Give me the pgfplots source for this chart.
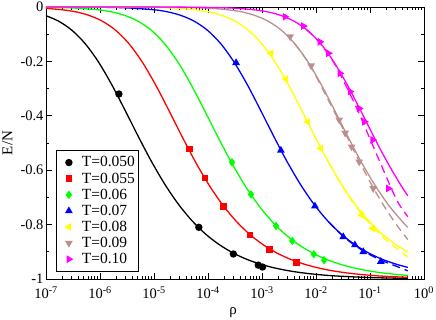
\documentclass[border=0pt]{standalone}
\usepackage{fontspec}
\setmainfont{Liberation Serif}
\usepackage{pgfplots}
\pgfplotsset{compat=1.18}
\definecolor{cbrown}{RGB}{188,143,143}
\definecolor{cyellow}{RGB}{255,255,0}
\definecolor{cgreen}{RGB}{0,255,0}
\definecolor{cmag}{RGB}{255,0,255}
\pgfplotsset{mylegend/.style={legend image code/.code={\path (0cm,0cm) (0.72cm,0cm); \draw[##1] plot coordinates {(0.36cm,0cm)};}}}
\begin{document}
\begin{tikzpicture}
\begin{axis}[
  scale only axis, width=378pt, height=272pt,
  xmin=-7, xmax=0, ymin=-1, ymax=0,
  xtick={-7,-6,-5,-4,-3,-2,-1,0},
  xticklabels={10\textsuperscript{-7},10\textsuperscript{-6},10\textsuperscript{-5},10\textsuperscript{-4},10\textsuperscript{-3},10\textsuperscript{-2},10\textsuperscript{-1},10\textsuperscript{0}},
  minor xtick={-6.699,-6.523,-6.398,-6.301,-6.222,-6.155,-6.097,-6.046,
               -5.699,-5.523,-5.398,-5.301,-5.222,-5.155,-5.097,-5.046,
               -4.699,-4.523,-4.398,-4.301,-4.222,-4.155,-4.097,-4.046,
               -3.699,-3.523,-3.398,-3.301,-3.222,-3.155,-3.097,-3.046,
               -2.699,-2.523,-2.398,-2.301,-2.222,-2.155,-2.097,-2.046,
               -1.699,-1.523,-1.398,-1.301,-1.222,-1.155,-1.097,-1.046,
               -0.699,-0.523,-0.398,-0.301,-0.222,-0.155,-0.097,-0.046},
  ytick={-1,-0.8,-0.6,-0.4,-0.2,0},
  yticklabels={-1,-0.8,-0.6,-0.4,-0.2,0},
  minor ytick={-0.9,-0.7,-0.5,-0.3,-0.1},
  tick align=inside,
  major tick length=6pt, minor tick length=3pt,
  tick style={black, line width=0.6pt},
  axis line style={line width=0.8pt},
  ticklabel style={font=\fontsize{14.5}{14.5}\selectfont},
  xticklabel style={yshift=-4pt},
  yticklabel style={xshift=1pt},
  ylabel={E/N}, xlabel={ρ},
  label style={font=\fontsize{15}{15}\selectfont},
  ylabel style={at={(axis description cs:-0.102,0.5)}, anchor=center, rotate=0},
  xlabel style={at={(axis description cs:0.495,-0.122)}, anchor=center},
  legend style={at={(axis description cs:0.027,0.026)}, anchor=south west,
    font=\fontsize{15.5}{15.5}\selectfont, draw=black, line width=0.6pt,
    inner xsep=1.5pt, inner ysep=4.5pt, row sep=0.3pt, legend cell align=left},
  every axis plot/.append style={line width=1.3pt},
  clip=true,
]
% ---- solid theory curves
\addplot[black, smooth, forget plot] coordinates {(-7.03,-0.0298) (-6.78,-0.0507) (-6.53,-0.0839) (-6.28,-0.1335) (-6.03,-0.2016) (-5.78,-0.2864) (-5.53,-0.3820) (-5.28,-0.4803) (-5.03,-0.5740) (-4.78,-0.6579) (-4.53,-0.7298) (-4.28,-0.7893) (-4.03,-0.8373) (-3.78,-0.8752) (-3.53,-0.9049) (-3.28,-0.9278) (-3.03,-0.9453) (-2.78,-0.9587) (-2.53,-0.9689) (-2.28,-0.9766) (-2.03,-0.9824) (-1.78,-0.9868) (-1.53,-0.9900) (-1.03,-0.9945) (-0.53,-0.9969) (-0.30,-0.9976)};
\addplot[red, smooth, forget plot] coordinates {(-7.22,-0.0031) (-6.97,-0.0056) (-6.72,-0.0098) (-6.47,-0.0169) (-6.22,-0.0298) (-5.97,-0.0507) (-5.72,-0.0839) (-5.47,-0.1335) (-5.22,-0.2016) (-4.97,-0.2864) (-4.72,-0.3820) (-4.47,-0.4803) (-4.22,-0.5740) (-3.97,-0.6579) (-3.72,-0.7298) (-3.47,-0.7893) (-3.22,-0.8373) (-2.97,-0.8752) (-2.72,-0.9049) (-2.47,-0.9278) (-2.22,-0.9453) (-1.97,-0.9587) (-1.72,-0.9689) (-1.47,-0.9766) (-1.22,-0.9824) (-0.97,-0.9868) (-0.72,-0.9900) (-0.30,-0.9939)};
\addplot[cgreen, smooth, forget plot] coordinates {(-7.06,-0.0010) (-6.56,-0.0031) (-6.06,-0.0098) (-5.81,-0.0169) (-5.56,-0.0298) (-5.31,-0.0507) (-5.06,-0.0839) (-4.81,-0.1335) (-4.56,-0.2016) (-4.31,-0.2864) (-4.06,-0.3820) (-3.81,-0.4803) (-3.56,-0.5740) (-3.31,-0.6579) (-3.06,-0.7298) (-2.81,-0.7893) (-2.56,-0.8373) (-2.31,-0.8752) (-2.06,-0.9049) (-1.81,-0.9278) (-1.56,-0.9453) (-1.31,-0.9587) (-1.06,-0.9689) (-0.81,-0.9766) (-0.56,-0.9824) (-0.30,-0.9869)};
\addplot[blue, smooth, forget plot] coordinates {(-7.02,-0.0001) (-6.02,-0.0010) (-5.52,-0.0031) (-5.02,-0.0098) (-4.77,-0.0169) (-4.52,-0.0298) (-4.27,-0.0507) (-4.02,-0.0839) (-3.77,-0.1335) (-3.52,-0.2016) (-3.27,-0.2864) (-3.02,-0.3820) (-2.77,-0.4803) (-2.52,-0.5740) (-2.27,-0.6579) (-2.02,-0.7298) (-1.77,-0.7893) (-1.52,-0.8373) (-1.27,-0.8752) (-1.02,-0.9049) (-0.77,-0.9278) (-0.52,-0.9453) (-0.30,-0.9573)};
\addplot[cyellow, smooth, forget plot] coordinates {(-7.26,0) (-6.26,-0.0001) (-5.76,-0.0003) (-5.26,-0.0010) (-4.76,-0.0031) (-4.51,-0.0056) (-4.26,-0.0098) (-4.01,-0.0169) (-3.76,-0.0298) (-3.51,-0.0507) (-3.26,-0.0839) (-3.01,-0.1335) (-2.76,-0.2016) (-2.51,-0.2864) (-2.26,-0.3820) (-2.01,-0.4803) (-1.76,-0.5740) (-1.51,-0.6579) (-1.26,-0.7298) (-1.01,-0.7893) (-0.76,-0.8373) (-0.51,-0.8752) (-0.30,-0.9006)};
\addplot[cbrown, smooth, forget plot] coordinates {(-7.65,0) (-6.65,0) (-5.65,-0.0001) (-5.15,-0.0003) (-4.65,-0.0010) (-4.15,-0.0031) (-3.90,-0.0056) (-3.65,-0.0098) (-3.40,-0.0169) (-3.15,-0.0298) (-2.90,-0.0507) (-2.65,-0.0839) (-2.40,-0.1335) (-2.15,-0.2016) (-1.90,-0.2864) (-1.65,-0.3820) (-1.40,-0.4803) (-1.15,-0.5740) (-0.90,-0.6579) (-0.65,-0.7298) (-0.40,-0.7893) (-0.30,-0.8098)};
\addplot[cmag, smooth, forget plot] coordinates {(-7.17,0) (-6.17,0) (-5.17,-0.0001) (-4.67,-0.0003) (-4.17,-0.0010) (-3.67,-0.0031) (-3.42,-0.0056) (-3.17,-0.0098) (-2.92,-0.0169) (-2.67,-0.0298) (-2.42,-0.0507) (-2.17,-0.0839) (-1.92,-0.1335) (-1.67,-0.2016) (-1.42,-0.2864) (-1.17,-0.3820) (-0.92,-0.4803) (-0.67,-0.5740) (-0.42,-0.6579) (-0.30,-0.6941)};
% ---- dashed curves
\addplot[blue, smooth, dash pattern=on 8pt off 5pt, forget plot] coordinates {(-1.77,-0.7893) (-1.5,-0.8425) (-1.25,-0.8807) (-1.0,-0.9109) (-0.75,-0.9349) (-0.5,-0.9541) (-0.3,-0.970)};
\addplot[cyellow, smooth, dash pattern=on 8pt off 5pt, forget plot] coordinates {(-1.76,-0.5740) (-1.5,-0.6639) (-1.25,-0.7367) (-1.0,-0.7977) (-0.75,-0.8479) (-0.5,-0.8891) (-0.3,-0.918)};
\addplot[cbrown, smooth, dash pattern=on 8pt off 5pt, forget plot] coordinates {(-2.40,-0.1335) (-2.15,-0.2016) (-2.0,-0.2542) (-1.5,-0.4477) (-1.25,-0.5478) (-1.0,-0.6425) (-0.75,-0.7287) (-0.5,-0.8029) (-0.3,-0.855)};
\addplot[cmag, smooth, dash pattern=on 8pt off 5pt, forget plot] coordinates {(-2.17,-0.0839) (-1.92,-0.1340) (-1.67,-0.2040) (-1.5,-0.268) (-1.25,-0.370) (-1.0,-0.485) (-0.75,-0.600) (-0.5,-0.712) (-0.3,-0.771)};
% ---- simulation markers
\addplot[only marks, mylegend, mark=*, mark size=3pt, black] coordinates {(-5.65,-0.32) (-4.17,-0.81) (-3.53,-0.908) (-3.07,-0.949) (-2.99,-0.956)};
\addlegendentry{T=0.050}
\addplot[only marks, mylegend, mark=square*, mark size=2.6pt, red] coordinates {(-4.34,-0.522) (-4.06,-0.628) (-3.71,-0.734) (-3.22,-0.838) (-2.865,-0.891) (-2.36,-0.939)};
\addlegendentry{T=0.055}
\addplot[only marks, mylegend, mark=diamond*, mark size=3.2pt, cgreen] coordinates {(-3.556,-0.571) (-3.204,-0.689) (-2.74,-0.805) (-2.44,-0.860) (-2.04,-0.909) (-1.85,-0.931)};
\addlegendentry{T=0.06}
\addplot[only marks, mylegend, mark=triangle*, mark size=3.2pt, blue] coordinates {(-3.48,-0.205) (-2.65,-0.527) (-2.02,-0.732) (-1.495,-0.845) (-1.28,-0.875) (-1.125,-0.900) (-0.80,-0.936)};
\addlegendentry{T=0.07}
\addplot[only marks, mylegend, mark=triangle*, mark size=3.2pt, mark options={rotate=90}, cyellow] coordinates {(-2.833,-0.170) (-2.556,-0.265) (-2.154,-0.422) (-1.913,-0.520) (-1.155,-0.765) (-0.95,-0.814)};
\addlegendentry{T=0.08}
\addplot[only marks, mylegend, mark=triangle*, mark size=3.2pt, mark options={rotate=180}, cbrown] coordinates {(-2.48,-0.109) (-2.09,-0.216) (-1.57,-0.415) (-1.46,-0.463) (-1.34,-0.514) (-1.20,-0.569) (-0.94,-0.667)};
\addlegendentry{T=0.09}
\addplot[only marks, mylegend, mark=triangle*, mark size=3.2pt, mark options={rotate=-90}, cmag] coordinates {(-2.574,-0.036) (-2.235,-0.070) (-1.926,-0.128) (-1.77,-0.170) (-1.556,-0.244) (-1.37,-0.311) (-1.2,-0.373) (-1.105,-0.422) (-0.95,-0.489) (-0.66,-0.667)};
\addlegendentry{T=0.10}
\coordinate (bl) at (rel axis cs:0,0);
\end{axis}
\pgfresetboundingbox
\path (bl) ++(-46pt,-41pt) rectangle ++(436pt,320pt);
\end{tikzpicture}
\end{document}
